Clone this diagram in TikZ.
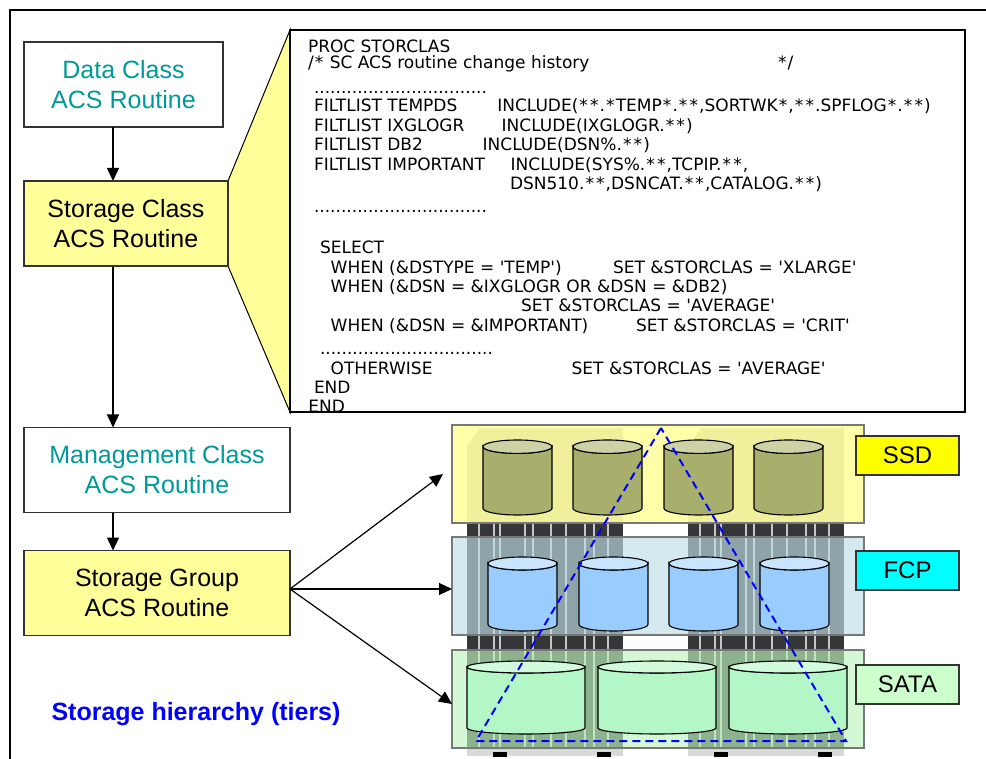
\documentclass[tikz,border=0pt]{standalone}
\usepackage{fontspec}
\setmainfont{Liberation Sans}
\newfontfamily\codefont{DejaVu Sans}
\usetikzlibrary{arrows.meta, positioning}

\definecolor{acsteal}{RGB}{0,153,153}
\definecolor{acsyellow}{RGB}{255,255,153}
\definecolor{boxline}{RGB}{51,51,51}
\definecolor{tierline}{RGB}{120,120,120}
\definecolor{ssdtint}{RGB}{255,255,125}
\definecolor{fcptint}{RGB}{191,223,229}
\definecolor{satatint}{RGB}{189,245,189}
\definecolor{ssddrum}{RGB}{168,174,108}
\definecolor{ssdlid}{RGB}{205,209,166}
\definecolor{fcpdrum}{RGB}{153,204,255}
\definecolor{fcplid}{RGB}{200,228,255}
\definecolor{satadrum}{RGB}{179,247,199}
\definecolor{satalid}{RGB}{210,251,222}
\definecolor{ssdbox}{RGB}{255,255,0}
\definecolor{fcpbox}{RGB}{0,255,255}
\definecolor{satabox}{RGB}{204,255,204}
\definecolor{racklight}{RGB}{214,214,214}
\definecolor{rackdark}{RGB}{52,54,56}
\definecolor{hierblue}{RGB}{0,0,255}

\newcommand{\dotrow}{................................}
% wide asterisk for the listing
\newcommand{\st}{\makebox[0.627em]{*}}

\begin{document}
\begin{tikzpicture}[x=1pt, y=-1pt, every node/.style={outer sep=0pt}]
  \tikzset{
    acsbox/.style={draw=boxline, line width=1.5pt, align=center, inner sep=0pt,
      minimum height=85pt, font=\fontsize{25}{30}\selectfont},
    flow/.style={line width=1.3pt, -{Triangle[length=13pt, width=12pt]}},
    code/.style={anchor=base west, inner sep=0pt, font=\codefont\fontsize{17}{20}\selectfont},
    tier/.style={draw=tierline, line width=1.3pt, fill opacity=0.65, anchor=north west,
      minimum width=412pt, minimum height=98pt},
    tierlabel/.style={draw=boxline, line width=1.3pt, minimum width=103pt,
      minimum height=39pt, font=\fontsize{24}{30}\selectfont},
    drumedge/.style={draw=black, line width=1.1pt},
    pics/drum/.style n args={5}{code={
      \draw[drumedge, fill=#4] (0,#3) -- (0,#2-#3)
        arc[start angle=180, end angle=0, x radius=#1/2, y radius=#3]
        -- (#1,#3) arc[start angle=0, end angle=180, x radius=#1/2, y radius=#3] -- cycle;
      \draw[drumedge, fill=#5] (#1/2,#3) ellipse[x radius=#1/2, y radius=#3];
    }}
  }
  \useasboundingbox (0,0) rectangle (986,759);
  \draw[line width=1.5pt] (10,759) -- (10,10) -- (986,10);

  % ACS routine chain
  \node[acsbox, minimum width=199pt, text=acsteal] (dc) at (123.5,84.5) {Data Class\\ACS Routine};
  \node[acsbox, minimum width=204pt, fill=acsyellow] (sc) at (126,223.5) {Storage Class\\ACS Routine};
  \node[acsbox, minimum width=266pt, text=acsteal] (mc) at (157,470) {Management Class\\ACS Routine};
  \node[acsbox, minimum width=266pt, fill=acsyellow] (sg) at (157,593) {Storage Group\\ACS Routine};
  \coordinate (spine) at (113,0);
  \draw[flow] (spine |- dc.south) -- (spine |- sc.north);
  \draw[flow] (spine |- sc.south) -- (spine |- mc.north);
  \draw[flow] (spine |- mc.south) -- (spine |- sg.north);

  % routine listing with callout
  \node[anchor=north west, minimum width=675pt, minimum height=382pt] (codebox) at (290,30) {};
  \draw[line width=1pt, fill=acsyellow] (sc.north east) -- (codebox.north west)
    -- (codebox.south west) -- (sc.south east) -- cycle;
  \draw[line width=1.5pt] (codebox.north west) rectangle (codebox.south east);
  \node[acsbox, minimum width=204pt, fill=acsyellow] at (sc) {Storage Class\\ACS Routine};

  \node[code] (l1) at (308,52.7) {PROC STORCLAS};
  \node[code] (l2) at (308,69) {/\st{} SC ACS routine change history};
  \node[code] (l2e) at (777,69) {\st/};
  \node[code] (l3) at (314,94) {\dotrow};
  \node[code] (l4) at (314,112) {FILTLIST TEMPDS};
  \node[code] (l4i) at (497.3,112) {INCLUDE(\st\st.\st TEMP\st.\st\st,SORTWK\st,\st\st.SPFLOG\st.\st\st)};
  \node[code] (l5) at (314,131.5) {FILTLIST IXGLOGR};
  \node[code] (l5i) at (501.7,131.5) {INCLUDE(IXGLOGR.\st\st)};
  \node[code] (l6) at (314,151) {FILTLIST DB2};
  \node[code] (l6i) at (482.7,151) {INCLUDE(DSN\%.\st\st)};
  \node[code] (l7) at (314,170.5) {FILTLIST IMPORTANT};
  \node[code] (l7i) at (510.7,170.5) {INCLUDE(SYS\%.\st\st,TCPIP.\st\st,};
  \node[code] (l8) at (510,190) {DSN510.\st\st,DSNCAT.\st\st,CATALOG.\st\st)};
  \node[code] (l9) at (314,213) {\dotrow};
  \node[code] (l10) at (320,253.3) {SELECT};
  \node[code] (l11) at (330.7,273.3) {WHEN (\&DSTYPE = 'TEMP')};
  \node[code] (l11s) at (613,273.3) {SET \&STORCLAS = 'XLARGE'};
  \node[code] (l12) at (330.7,292.7) {WHEN (\&DSN = \&IXGLOGR OR \&DSN = \&DB2)};
  \node[code] (l13) at (521,311.7) {SET \&STORCLAS = 'AVERAGE'};
  \node[code] (l14) at (330.7,331.7) {WHEN (\&DSN = \&IMPORTANT)};
  \node[code] (l14s) at (636,331.7) {SET \&STORCLAS = 'CRIT'};
  \node[code] (l15) at (320,354.5) {\dotrow};
  \node[code] (l16) at (330.7,374.3) {OTHERWISE};
  \node[code] (l16s) at (571.7,374.3) {SET \&STORCLAS = 'AVERAGE'};
  \node[code] (l17) at (314,394) {END};
  \node[code] (l18) at (308.3,412.7) {END};

  % storage frames behind the tiers
  \foreach \rx in {467,688} {
    \fill[racklight] (\rx,446) -- (\rx+13,428) -- (\rx+156,428) -- (\rx+156,523) -- (\rx,523) -- cycle;
    \fill[rackdark] (\rx,523) rectangle (\rx+156,748);
    \foreach \sx in {12,27,33,58,66,84,99,118,127,141}
      \draw[gray!45, line width=1.2pt] (\rx+\sx,523) -- (\rx+\sx,748);
    \fill[gray!30] (\rx,748) rectangle (\rx+156,756);
    \fill[black] (\rx+26,752) rectangle (\rx+40,757);
    \fill[black] (\rx+130,752) rectangle (\rx+144,757);
  }

  % tiers
  \node[tier, fill=ssdtint] (ssd) at (452,425) {};
  \node[tier, fill=fcptint] (fcp) at (452,537) {};
  \node[tier, fill=satatint] (sata) at (452,650) {};
  \foreach \dx in {483,573,664,754}
    \pic at (\dx,440) {drum={69}{75}{6.7}{ssddrum}{ssdlid}};
  \foreach \dx in {488,579,669,760}
    \pic at (\dx,557) {drum={69}{74}{6.5}{fcpdrum}{fcplid}};
  \foreach \dx in {467,598,729}
    \pic at (\dx,661) {drum={118}{73}{6}{satadrum}{satalid}};

  \coordinate (apex) at (661,428);
  \coordinate (base l) at (476,741);
  \coordinate (base r) at (846,741);
  \draw[hierblue, line width=2pt, dash pattern=on 8pt off 5pt] (apex) -- (base l) -- (base r) -- cycle;

  \node[tierlabel, fill=ssdbox] (ssdlab) at (907.5,455.5) {SSD};
  \node[tierlabel, fill=fcpbox] (fcplab) at (907.5,570.5) {FCP};
  \node[tierlabel, fill=satabox] (satalab) at (907.5,684.5) {SATA};

  % storage group fans out to the tiers
  \coordinate (fan) at ([yshift=4pt]sg.east);
  \coordinate (to ssd) at (443,474);
  \coordinate (to fcp) at (fcp.west |- fan);
  \coordinate (to sata) at (452,704);
  \draw[flow, line width=1.2pt] (fan) -- (to ssd);
  \draw[flow, line width=1.2pt] (fan) -- (to fcp);
  \draw[flow, line width=1.2pt] (fan) -- (to sata);

  \node[anchor=base, text=hierblue, font=\bfseries\fontsize{25}{30}\selectfont] (hier)
    at (196,720) {Storage hierarchy (tiers)};
\end{tikzpicture}
\end{document}
